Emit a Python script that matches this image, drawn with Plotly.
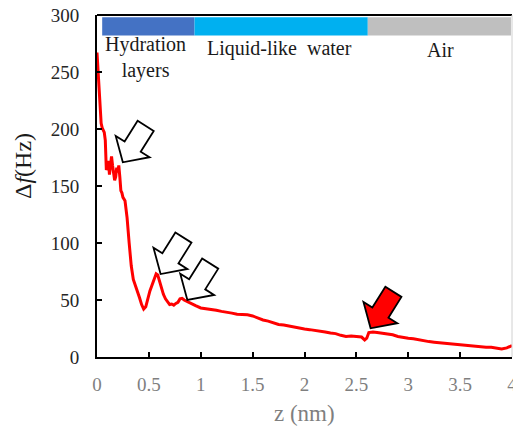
import plotly.graph_objects as go

# ---- data ----
z_nm = [0.00, 0.01, 0.02, 0.03, 0.04, 0.05, 0.06, 0.07, 0.08, 0.085, 0.09, 0.10, 0.11, 0.12, 0.13,
        0.14, 0.15, 0.16, 0.17, 0.18, 0.19, 0.20, 0.21, 0.22, 0.23, 0.24, 0.25, 0.27, 0.29, 0.31,
        0.33, 0.35, 0.37, 0.39, 0.41, 0.43, 0.45, 0.47, 0.49, 0.51, 0.53, 0.55, 0.57, 0.585, 0.60,
        0.62, 0.64, 0.66, 0.68, 0.70, 0.72, 0.74, 0.76, 0.78, 0.80, 0.82, 0.84, 0.86, 0.88, 0.90,
        0.95, 1.00, 1.05, 1.10, 1.15, 1.20, 1.25, 1.30, 1.35, 1.40, 1.45, 1.50, 1.55, 1.60, 1.65,
        1.70, 1.75, 1.80, 1.85, 1.90, 1.95, 2.00, 2.05, 2.10, 2.15, 2.20, 2.25, 2.30, 2.35, 2.40,
        2.45, 2.50, 2.55, 2.58, 2.60, 2.62, 2.66, 2.70, 2.75, 2.80, 2.85, 2.90, 2.95, 3.00, 3.05,
        3.10, 3.15, 3.20, 3.25, 3.30, 3.35, 3.40, 3.45, 3.50, 3.55, 3.60, 3.65, 3.70, 3.75, 3.80,
        3.85, 3.90, 3.95, 4.00]
delta_f = [267, 250, 228, 212, 205, 201, 199, 197, 190, 175, 164, 167, 172, 160, 171,
           176, 168, 160, 155, 158, 166, 162, 168, 158, 146, 144, 140, 137, 122, 100,
           80, 68, 63, 58, 52, 46, 42, 44, 52, 58, 63, 68, 73, 72, 67,
           61, 55, 51, 48, 46, 46.5, 45.5, 47, 48, 51, 51.5, 50, 49, 48, 47,
           45, 43, 42.5, 41.5, 41, 40, 39.5, 38.5, 37.5, 37.5, 37, 36, 34, 32.5, 31.5,
           30, 28.5, 28, 27, 26, 25.5, 24.5, 24, 23.5, 22.5, 22, 21, 20.5, 19, 18,
           18.5, 18, 17.5, 15, 16.5, 21.5, 22, 21.5, 21, 20.5, 19.5, 18, 17, 16.5, 16,
           15, 14.5, 13.5, 13, 12.5, 12, 11.5, 11, 10.5, 10, 9.5, 9.5, 9, 8.5, 8.5,
           7.5, 7, 8, 10]

x_ticks = [0, 0.5, 1, 1.5, 2, 2.5, 3, 3.5, 4]
x_tick_labels = ["0", "0.5", "1", "1.5", "2", "2.5", "3", "3.5", "4"]
y_ticks = [0, 50, 100, 150, 200, 250, 300]

region_start = [0.05, 0.94, 2.61]
region_end = [0.94, 2.61, 3.99]
region_colors = ["#4472C4", "#00B0F0", "#BFBFBF"]
region_labels = ["Hydration<br>layers", "Liquid-like&nbsp;&nbsp;water", "Air"]
region_label_x = [0.47, 1.76, 3.315]
region_label_y = [262.7, 271, 269]

arrow_tip_x = [0.249, 0.613, 0.871, 2.637]
arrow_tip_y = [170.8, 72.8, 50.0, 25.2]
arrow_fill = ["white", "white", "white", "#FF0000"]

SERIF = "Liberation Serif"

# ---- layout geometry ----
W, H = 513, 428
ML, MR, MT, MB = 97, 1, 15, 71
XMAX, YMAX = 4, 300
sx = (W - ML - MR) / XMAX
sy = (H - MT - MB) / YMAX

fig = go.Figure()
fig.add_trace(go.Scatter(x=z_nm, y=delta_f, mode="lines",
                         line=dict(color="#FF0000", width=3), showlegend=False))

shapes = []
for x0, x1, c in zip(region_start, region_end, region_colors):
    shapes.append(dict(type="rect", xref="x", yref="y", x0=x0, x1=x1, y0=282, y1=298,
                       fillcolor=c, line=dict(width=0), layer="below"))
shapes.append(dict(type="line", xref="paper", yref="paper", x0=0, x1=1, y0=1, y1=1,
                   line=dict(color="black", width=2)))
shapes.append(dict(type="line", xref="paper", yref="paper", x0=1, x1=1, y0=0, y1=1,
                   line=dict(color="#D0D0D0", width=1)))

# block arrows (pixel geometry -> data units)
L_, HH, HW, SW = 43, 18.5, 20, 9.5
dux, duy = 0.531, 0.847
nvx, nvy = 0.847, -0.531
local = [(0, 0), (HH, -HW), (HH, -SW), (L_, -SW), (L_, SW), (HH, SW), (HH, HW)]
for tx, ty, fc in zip(arrow_tip_x, arrow_tip_y, arrow_fill):
    pts = []
    for u, v in local:
        px = u * dux + v * nvx
        py = u * duy + v * nvy
        pts.append((tx + px / sx, ty + py / sy))
    path = "M " + " L ".join(f"{a:.4f},{b:.4f}" for a, b in pts) + " Z"
    shapes.append(dict(type="path", xref="x", yref="y", path=path,
                       fillcolor=fc, line=dict(color="black", width=1.8), layer="above"))

annotations = []
for lab, lx, ly in zip(region_labels, region_label_x, region_label_y):
    annotations.append(dict(x=lx, y=ly, xref="x", yref="y", text=lab, showarrow=False,
                            font=dict(family=SERIF, size=20, color="#1a1a1a"),
                            xanchor="center", yanchor="middle"))
annotations.append(dict(x=(304 - ML) / (W - ML - MR), y=-(413 - (H - MB)) / (H - MT - MB),
                        xref="paper", yref="paper", text="z (nm)", showarrow=False,
                        font=dict(family=SERIF, size=23, color="#7f7f7f"),
                        xanchor="center", yanchor="middle"))
annotations.append(dict(x=(23 - ML) / (W - ML - MR), y=(H - MB - 166) / (H - MT - MB),
                        xref="paper", yref="paper", text="Δ<i>f</i>(Hz)", showarrow=False,
                        textangle=-90,
                        font=dict(family=SERIF, size=24, color="#1a1a1a"),
                        xanchor="center", yanchor="middle"))

fig.update_layout(
    width=W, height=H,
    margin=dict(l=ML, r=MR, t=MT, b=MB, pad=0, autoexpand=False),
    paper_bgcolor="white", plot_bgcolor="white",
    shapes=shapes, annotations=annotations,
    xaxis=dict(range=[0, XMAX], tickvals=x_ticks, ticktext=x_tick_labels,
               showgrid=False, zeroline=False, showline=True, linecolor="black", linewidth=2,
               ticks="inside", ticklen=5, tickwidth=2, tickcolor="black",
               tickfont=dict(family=SERIF, size=19, color="#7f7f7f"),
               ticklabelstandoff=9, ticklabeloverflow="allow", automargin=False),
    yaxis=dict(range=[0, YMAX], tickvals=y_ticks,
               showgrid=False, zeroline=False, showline=True, linecolor="black", linewidth=2,
               ticks="inside", ticklen=5, tickwidth=2, tickcolor="black",
               tickfont=dict(family=SERIF, size=19, color="#262626"),
               ticklabelstandoff=12, automargin=False),
)

fig.write_html("out.html")
